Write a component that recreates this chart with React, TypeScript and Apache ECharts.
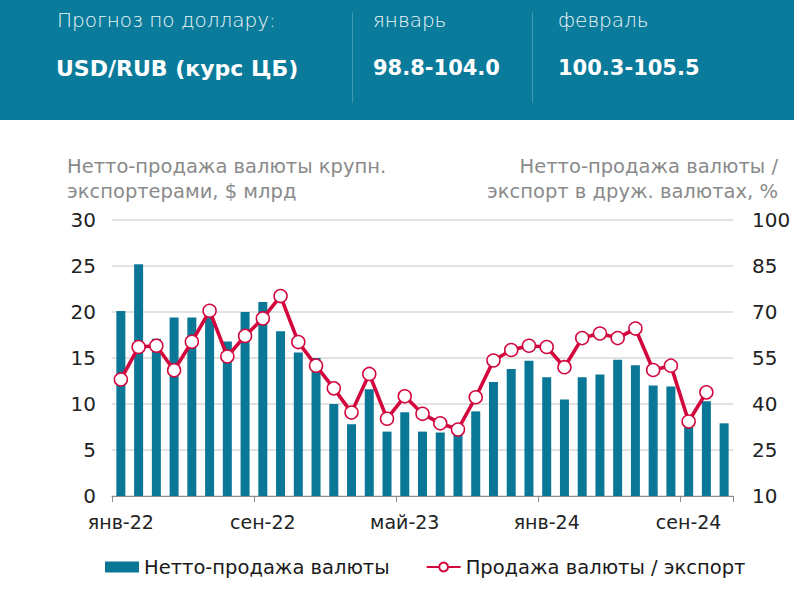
import React, { useEffect, useRef } from "react";
import * as echarts from "echarts";

const months = [
  "янв-22","фев-22","мар-22","апр-22","май-22","июн-22","июл-22","авг-22","сен-22","окт-22","ноя-22","дек-22",
  "янв-23","фев-23","мар-23","апр-23","май-23","июн-23","июл-23","авг-23","сен-23","окт-23","ноя-23","дек-23",
  "янв-24","фев-24","мар-24","апр-24","май-24","июн-24","июл-24","авг-24","сен-24","окт-24","ноя-24",
];

const netSales = [
  20.1, 25.2, 17.1, 19.4, 19.4, 19.7, 16.8, 20.0, 21.1, 17.9, 15.6, 15.0,
  10.0, 7.8, 11.6, 7.0, 9.1, 7.0, 6.9, 7.0, 9.2, 12.4, 13.8, 14.7,
  12.9, 10.5, 12.9, 13.2, 14.8, 14.2, 12.0, 11.9, 8.3, 10.3, 7.9,
];

const salesToExport = [
  48.0, 58.6, 59.0, 51.0, 60.3, 70.4, 55.5, 62.2, 67.9, 75.2, 60.2, 52.5,
  45.1, 37.2, 49.8, 35.2, 42.5, 36.8, 33.7, 31.7, 42.2, 54.2, 57.6, 59.0,
  58.6, 52.0, 61.5, 63.0, 61.5, 64.6, 51.1, 52.5, 34.3, 43.8, null,
];

const rightTicks = [10, 25, 40, 55, 70, 85, 100];

const headerLabel = "Прогноз по доллару:";
const headerPair = "USD/RUB (курс ЦБ)";
const headerMonths = ["январь", "февраль"];
const headerRanges = ["98.8-104.0", "100.3-105.5"];

const leftTitle = "Нетто-продажа валюты крупн.\nэкспортерами, $ млрд";
const rightTitle = "Нетто-продажа валюты /\nэкспорт в друж. валютах, %";
const barName = "Нетто-продажа валюты";
const lineName = "Продажа валюты / экспорт";

const FONT = "DejaVu Sans";
const HEADER_BG = "#0a7b9b";
const BAR_COLOR = "#0b7797";
const LINE_COLOR = "#d3073e";

export default function App() {
  const ref = useRef<HTMLDivElement>(null);

  useEffect(() => {
    if (!ref.current) return;
    const chart = echarts.init(ref.current, undefined, { renderer: "svg" });
    chart.setOption({
      animation: false,
      textStyle: { fontFamily: FONT },
      grid: { left: 112, right: 61, top: 220, bottom: 108, containLabel: false },
      graphic: [
        { type: "rect", left: 0, top: 0, shape: { width: 794, height: 120 }, style: { fill: HEADER_BG }, z: 0 },
        { type: "line", shape: { x1: 352.5, y1: 12, x2: 352.5, y2: 103 }, style: { stroke: "rgba(255,255,255,0.22)", lineWidth: 1 } },
        { type: "line", shape: { x1: 532.5, y1: 12, x2: 532.5, y2: 103 }, style: { stroke: "rgba(255,255,255,0.22)", lineWidth: 1 } },
        { type: "text", x: 57, y: 20, style: { text: headerLabel, fill: "#eef5f8", font: `300 20px "${FONT}"`, textVerticalAlign: "middle" } },
        { type: "text", x: 56, y: 68, style: { text: headerPair, fill: "#ffffff", font: `bold 22px "${FONT}"`, textVerticalAlign: "middle" } },
        { type: "text", x: 373, y: 20, style: { text: headerMonths[0], fill: "#eef5f8", font: `300 20px "${FONT}"`, textVerticalAlign: "middle" } },
        { type: "text", x: 373, y: 68, style: { text: headerRanges[0], fill: "#ffffff", font: `bold 21px "${FONT}"`, textVerticalAlign: "middle" } },
        { type: "text", x: 558, y: 20, style: { text: headerMonths[1], fill: "#eef5f8", font: `300 20px "${FONT}"`, textVerticalAlign: "middle" } },
        { type: "text", x: 558, y: 68, style: { text: headerRanges[1], fill: "#ffffff", font: `bold 21px "${FONT}"`, textVerticalAlign: "middle" } },
        { type: "text", x: 67, y: 154, style: { text: leftTitle, fill: "#8a8a8a", font: `19.5px "${FONT}"`, lineHeight: 25 } },
        { type: "text", x: 778, y: 154, style: { text: rightTitle, fill: "#8a8a8a", font: `19.5px "${FONT}"`, lineHeight: 25, textAlign: "right" } },
      ],
      legend: {
        left: 100,
        top: 552,
        itemWidth: 34,
        itemHeight: 11,
        itemGap: 36,
        textStyle: { fontSize: 19.5, color: "#1a1a1a", fontFamily: FONT },
        data: [
          { name: barName, icon: "rect" },
          { name: lineName },
        ],
      },
      xAxis: {
        type: "category",
        data: months,
        boundaryGap: true,
        axisLine: { lineStyle: { color: "#8c8c8c", width: 1 } },
        axisTick: { show: true, interval: 7, length: 6, lineStyle: { color: "#8c8c8c" } },
        axisLabel: { interval: 7, fontSize: 19, color: "#222", margin: 16, fontFamily: FONT },
        splitLine: { show: false },
      },
      yAxis: [
        {
          type: "value",
          min: 0,
          max: 30,
          interval: 5,
          axisLine: { show: false },
          axisTick: { show: false },
          axisLabel: { fontSize: 20, color: "#222", margin: 16, fontFamily: FONT },
          splitLine: { lineStyle: { color: "#d9d9d9", width: 1.5 } },
        },
        {
          type: "value",
          min: 10,
          max: 100,
          axisLine: { show: false },
          axisTick: { show: false },
          axisLabel: { fontSize: 20, color: "#222", margin: 19, fontFamily: FONT, customValues: rightTicks },
          splitLine: { show: false },
        },
      ],
      series: [
        {
          name: barName,
          type: "bar",
          data: netSales,
          yAxisIndex: 0,
          barWidth: 9,
          itemStyle: { color: BAR_COLOR },
        },
        {
          name: lineName,
          type: "line",
          data: salesToExport,
          yAxisIndex: 1,
          symbol: "circle",
          symbolSize: 13,
          showAllSymbol: true,
          lineStyle: { color: LINE_COLOR, width: 3.6 },
          itemStyle: { color: "#ffffff", borderColor: LINE_COLOR, borderWidth: 1.5 },
          z: 3,
        },
      ],
    });
    return () => chart.dispose();
  }, []);

  return (
    <div
      ref={ref}
      style={{ position: "fixed", left: 0, top: 0, width: 794, height: 604, background: "#ffffff" }}
    />
  );
}
